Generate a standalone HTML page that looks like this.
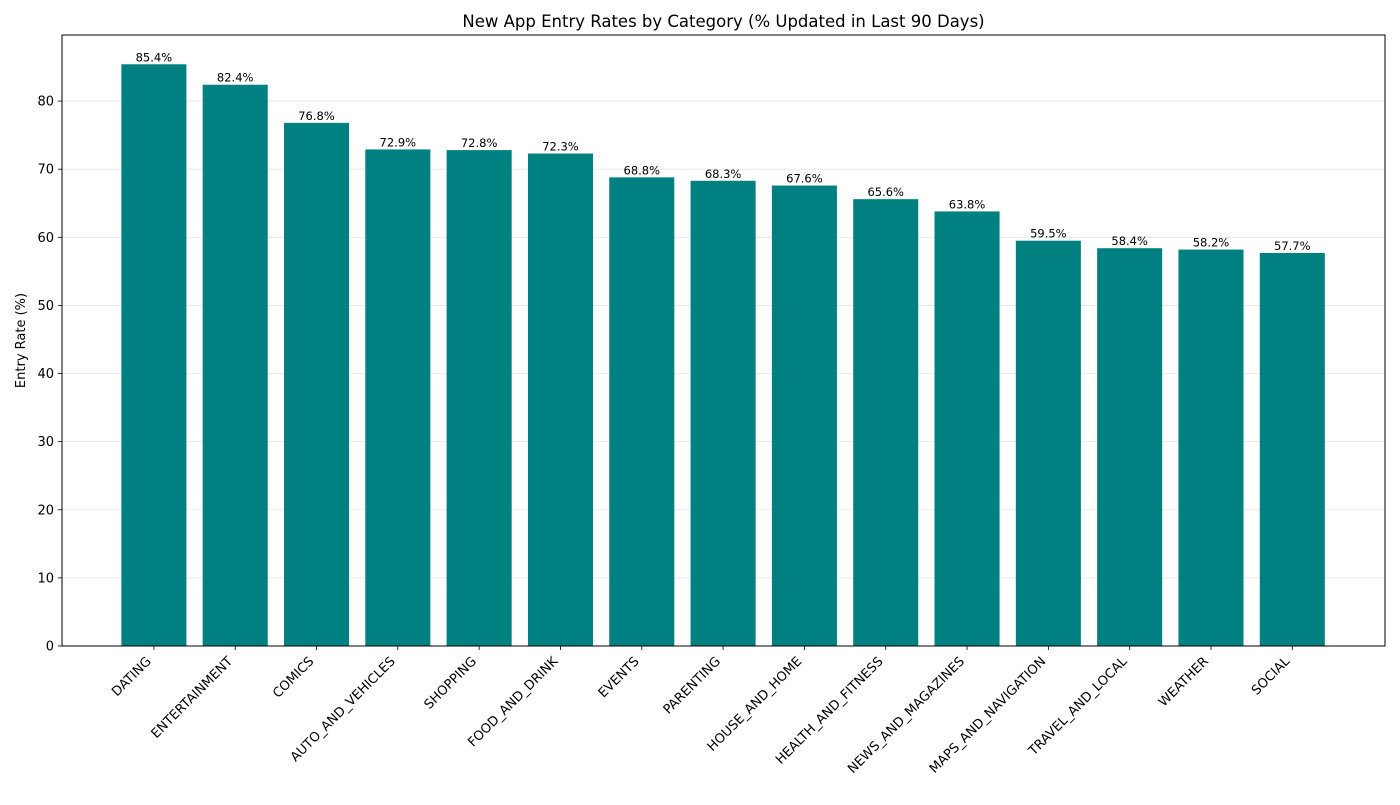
<!DOCTYPE html>
<html><head><meta charset="utf-8"><style>
body{margin:0;background:#fff;}
svg text{font-family:"DejaVu Sans","Liberation Sans",sans-serif;}
</style></head><body>
<svg id="chart" width="1400" height="800" xmlns="http://www.w3.org/2000/svg"></svg>
<script>
const categories=["DATING","ENTERTAINMENT","COMICS","AUTO_AND_VEHICLES","SHOPPING","FOOD_AND_DRINK","EVENTS","PARENTING","HOUSE_AND_HOME","HEALTH_AND_FITNESS","NEWS_AND_MAGAZINES","MAPS_AND_NAVIGATION","TRAVEL_AND_LOCAL","WEATHER","SOCIAL"];
const values=[85.4,82.4,76.8,72.9,72.8,72.3,68.8,68.3,67.6,65.6,63.8,59.5,58.4,58.2,57.7];
const yTicks=[0,10,20,30,40,50,60,70,80];
const NS="http://www.w3.org/2000/svg";
const svg=document.getElementById('chart');
const L=62,R=1385,T=35,B=646;
const yMax=89.7;
const xMin=-1.13,xMax=categories.length-1+1.14;
const y=v=>B-(v/yMax)*(B-T);
const x=i=>L+(i-xMin)/(xMax-xMin)*(R-L);
const unit=(R-L)/(xMax-xMin);
function mk(tag,attrs,parent){const e=document.createElementNS(NS,tag);for(const k in attrs)e.setAttribute(k,attrs[k]);(parent||svg).appendChild(e);return e;}
let t=mk('text',{x:(L+R)/2,y:27,'text-anchor':'middle','font-size':16.5,fill:'#000'});


t.textContent='New App Entry Rates by Category (% Updated in Last 90 Days)';
yTicks.forEach(v=>{
  const g=mk('line',{x1:L,x2:R,y1:y(v),y2:y(v),stroke:'#e6e6e6','stroke-width':0.8});
  
  
  mk('line',{x1:L-4,x2:L,y1:y(v),y2:y(v),stroke:'#000','stroke-width':0.8});
  const tl=mk('text',{x:L-8,y:y(v)+4.5,'text-anchor':'end','font-size':13});
  
  
  tl.textContent=v;
});
categories.forEach((c,i)=>{
  const w=unit*0.8,cx=x(i);
  const b=mk('rect',{x:cx-w/2,y:y(values[i]),width:w,height:B-y(values[i]),fill:'#008080'});
  
  
  const vl=mk('text',{x:cx,y:y(values[i])-3,'text-anchor':'middle','font-size':11.5});
  
  
  vl.textContent=values[i].toFixed(1)+'%';
  mk('line',{x1:cx,x2:cx,y1:B,y2:B+4,stroke:'#000','stroke-width':0.8});
  const xl=mk('text',{x:0,y:0,'text-anchor':'end','font-size':13,transform:`translate(${cx-2},${B+16}) rotate(-45)`});
  
  
  xl.textContent=c;
});
const frame=mk('rect',{x:L,y:T,width:R-L,height:B-T,fill:'none',stroke:'#000','stroke-width':1});


const yt=mk('text',{x:0,y:0,'text-anchor':'middle','font-size':13,transform:`translate(25,${(T+B)/2}) rotate(-90)`});


yt.textContent='Entry Rate (%)';
</script>
</body></html>
